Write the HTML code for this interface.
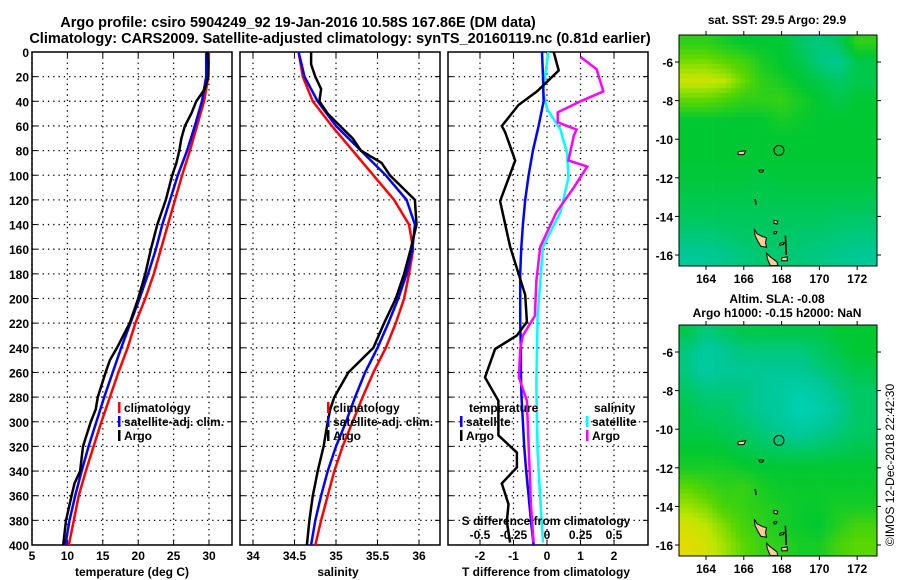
<!DOCTYPE html>
<html><head><meta charset="utf-8">
<style>
body{margin:0;background:#fff;}
svg{display:block;font-family:"Liberation Sans",Arial,sans-serif;font-weight:bold;}
</style></head>
<body>
<svg id="fig" width="900" height="580" viewBox="0 0 900 580" xmlns="http://www.w3.org/2000/svg">
<text x="298" y="27" font-size="14.5" text-anchor="middle">Argo profile: csiro 5904249_92 19-Jan-2016 10.58S 167.86E (DM data)</text>
<text x="340" y="43" font-size="14.5" text-anchor="middle">Climatology: CARS2009. Satellite-adjusted climatology: synTS_20160119.nc (0.81d earlier)</text>
<text x="777" y="24" font-size="12" text-anchor="middle">sat. SST: 29.5 Argo: 29.9</text>
<text x="777" y="303" font-size="12" text-anchor="middle">Altim. SLA: -0.08</text>
<text x="777" y="317" font-size="12" text-anchor="middle">Argo h1000: -0.15 h2000: NaN</text>
<text transform="translate(894,465) rotate(-90)" font-size="12" font-weight="normal" text-anchor="middle">©IMOS 12-Dec-2018 22:42:30</text>
</svg>
<script>
// ---------- data ----------
const depthTicks=[0,20,40,60,80,100,120,140,160,180,200,220,240,260,280,300,320,340,360,380,400];
const tTicks=[5,10,15,20,25,30];
const sTicks=[34,34.5,35,35.5,36];
const dTTicks=[-2,-1,0,1,2];
const dSTicks=[-0.5,-0.25,0,0.25,0.5];
const dSTickLabels=['-0.5','-0.25','0','0.25','0.5'];
const climDepth=[0,20,40,60,80,100,120,140,160,180,200,220,240,260,280,300,320,340,360,380,400];
const tClim=[30,29.9,29.3,28.3,27.3,26.2,25.2,24.2,23.2,22.2,21,19.6,18.5,17.2,16,14.8,13.7,12.6,11.6,10.9,10.2];
const tSat=[29.6,29.6,29,28,26.9,25.6,24.5,23.4,22.5,21.4,20.2,18.9,17.6,16.4,15.2,14.1,13,12,11.1,10.3,9.7];
const argoDepth=[0,10,20,30,40,50,60,70,80,90,100,120,140,160,180,200,220,240,250,260,280,290,300,320,340,350,360,380,400];
const tArgo=[29.8,29.9,29.9,29.4,28.2,27.5,26.6,26.1,25.8,25.4,24.8,23.9,22.7,21.8,21,20,18.8,17,16,15.4,14.3,14,13.3,12.2,11.8,11,10.6,9.8,9.4];
const sClim=[34.55,34.6,34.72,34.95,35.2,35.45,35.7,35.88,35.93,35.88,35.82,35.72,35.6,35.45,35.32,35.2,35.08,34.98,34.9,34.82,34.75];
const sSat=[34.55,34.62,34.78,35.0,35.3,35.6,35.85,35.95,35.92,35.85,35.75,35.63,35.5,35.35,35.23,35.12,35.0,34.9,34.82,34.75,34.7];
const sArgo=[34.7,34.7,34.75,34.82,34.8,34.9,35.05,35.2,35.3,35.55,35.65,35.95,35.97,35.9,35.82,35.72,35.58,35.45,35.3,35.15,34.98,34.93,34.9,34.85,34.78,34.75,34.72,34.68,34.65];
const dTSat=[-0.15,-0.12,-0.1,-0.25,-0.42,-0.55,-0.65,-0.72,-0.77,-0.8,-0.8,-0.8,-0.78,-0.78,-0.76,-0.72,-0.68,-0.62,-0.55,-0.48,-0.4];
const dTArgoDepth=[0,15,32,43,60,65,88,121,158,197,219,230,241,264,283,311,325,337,350,367,381,398];
const dTArgo=[0.2,0.35,-0.3,-0.85,-1.35,-1.25,-0.95,-1.4,-1.1,-0.65,-0.6,-0.9,-1.55,-1.85,-1.45,-1.45,-0.9,-0.9,-1.35,-1.15,-1.2,-1.1];
const dSArgoDepth=[4,14,32,40,49,57,63,68,88,93,110,130,144,158,186,214,230,241,264,283,311,339,367,398];
const dSArgo=[0.25,0.37,0.42,0.25,0.08,0.08,0.22,0.2,0.16,0.3,0.2,0.07,0.01,-0.05,-0.08,-0.09,-0.18,-0.2,-0.21,-0.15,-0.14,-0.13,-0.12,-0.1];
const dSSatDepth=[0,32,46,63,82,102,130,147,158,214,270,325,381,398];
const dSSat=[0.01,-0.03,0,0.1,0.15,0.16,0.1,0.02,-0.03,-0.07,-0.08,-0.07,-0.04,-0.03];
// map data: rows lat -5..-16, cols lon 163..172
const mapLats=[-5,-6,-7,-8,-9,-10,-11,-12,-13,-14,-15,-16];
const mapLons=[163,164,165,166,167,168,169,170,171,172];
const lonTicks=[164,166,168,170,172];
const latTicks=[-6,-8,-10,-12,-14,-16];
const sstGrid=[
[0.6,0.6,0.55,0.5,0.5,0.5,0.4,0.35,0.4,0.6],
[0.75,0.75,0.7,0.65,0.55,0.5,0.45,0.35,0.3,0.45],
[0.88,0.88,0.85,0.72,0.6,0.55,0.5,0.45,0.4,0.45],
[0.7,0.7,0.65,0.6,0.6,0.62,0.55,0.5,0.45,0.5],
[0.5,0.5,0.5,0.5,0.5,0.55,0.52,0.5,0.5,0.5],
[0.5,0.5,0.5,0.5,0.5,0.5,0.5,0.5,0.5,0.5],
[0.5,0.5,0.5,0.5,0.5,0.5,0.5,0.5,0.5,0.5],
[0.48,0.48,0.48,0.48,0.46,0.48,0.48,0.48,0.48,0.48],
[0.45,0.45,0.45,0.45,0.45,0.45,0.45,0.45,0.45,0.45],
[0.42,0.42,0.42,0.42,0.42,0.42,0.42,0.42,0.4,0.4],
[0.36,0.36,0.38,0.4,0.4,0.4,0.38,0.38,0.36,0.35],
[0.3,0.3,0.32,0.35,0.38,0.38,0.36,0.34,0.32,0.3]];
const slaGrid=[
[0.45,0.35,0.4,0.45,0.45,0.45,0.45,0.45,0.5,0.5],
[0.35,0.25,0.3,0.35,0.35,0.35,0.35,0.4,0.45,0.5],
[0.35,0.25,0.3,0.3,0.3,0.3,0.3,0.35,0.4,0.45],
[0.4,0.35,0.35,0.35,0.3,0.25,0.2,0.25,0.35,0.4],
[0.45,0.4,0.4,0.35,0.3,0.25,0.15,0.2,0.3,0.4],
[0.45,0.45,0.42,0.4,0.35,0.3,0.25,0.3,0.35,0.4],
[0.5,0.5,0.48,0.45,0.42,0.4,0.38,0.4,0.42,0.45],
[0.55,0.55,0.55,0.52,0.5,0.5,0.5,0.5,0.5,0.5],
[0.7,0.65,0.6,0.62,0.55,0.52,0.52,0.52,0.52,0.52],
[0.8,0.75,0.65,0.62,0.58,0.55,0.52,0.52,0.55,0.55],
[0.9,0.85,0.75,0.65,0.6,0.55,0.52,0.5,0.58,0.65],
[0.95,0.9,0.8,0.7,0.62,0.6,0.55,0.55,0.65,0.7]];
const argoLon=167.86, argoLat=-10.58;

// ---------- helpers ----------
const svg=document.getElementById('fig');
const NS='http://www.w3.org/2000/svg';
function mk(tag,attrs,parent){const e=document.createElementNS(NS,tag);for(const k in attrs)e.setAttribute(k,attrs[k]);(parent||svg).appendChild(e);return e;}
const TOP=52, BOT=545;
const yD=d=>TOP+(BOT-TOP)*d/400;
function txt(x,y,s,size,anchor,color){const t=mk('text',{x,y,'font-size':size||12,'text-anchor':anchor||'middle',fill:color||'#000'});t.textContent=s;return t;}

function panel(x0,x1,xs,xticks,xlabels,name){
  const g=mk('g',{});
  
  
  xticks.forEach(v=>{const X=xs(v);mk('line',{x1:X,y1:TOP,x2:X,y2:BOT,stroke:'#000','stroke-width':1.3,'stroke-dasharray':'1.3,4'},g);
    mk('line',{x1:X,y1:TOP,x2:X,y2:TOP+5,stroke:'#000'},g);mk('line',{x1:X,y1:BOT,x2:X,y2:BOT-5,stroke:'#000'},g);});
  depthTicks.forEach(d=>{const Y=yD(d);if(d>0&&d<400)mk('line',{x1:x0,y1:Y,x2:x1,y2:Y,stroke:'#000','stroke-width':1.3,'stroke-dasharray':'1.3,4'},g);
    mk('line',{x1:x0,y1:Y,x2:x0+5,y2:Y,stroke:'#000'},g);mk('line',{x1:x1,y1:Y,x2:x1-5,y2:Y,stroke:'#000'},g);});
  mk('rect',{x:x0,y:TOP,width:x1-x0,height:BOT-TOP,fill:'none',stroke:'#000','stroke-width':1.5},g);
  if(xlabels) xticks.forEach((v,i)=>{const t=mk('text',{x:xs(v),y:560,'font-size':12,'text-anchor':'middle'},g);t.textContent=xlabels[i];});
  return g;
}
function series(xs,depths,vals,color,name,w){
  const p=mk('polyline',{points:vals.map((v,i)=>xs(v).toFixed(1)+','+yD(depths[i]).toFixed(1)).join(' '),fill:'none',stroke:color,'stroke-width':w||2.5,'stroke-linejoin':'miter'});
  
  
}
function legendEntry(x,y,color,label,name){
  const g=mk('g',{});
  
  
  mk('rect',{x:x,y:y-10,width:2.5,height:11,fill:color},g);
  const t=mk('text',{x:x+6,y:y,'font-size':12},g);t.textContent=label;
}

// ---------- panel 1: temperature ----------
const xT=v=>32+(v-5)*(209-32)/25;
panel(32,232,xT,tTicks,tTicks.map(String),'temperature-panel');
depthTicks.forEach(d=>{const t=txt(29,yD(d)+5,String(d),12,'end');});
series(xT,climDepth,tClim,'#ff0000','temp-climatology-line');
series(xT,climDepth,tSat,'#0000ff','temp-satellite-line');
series(xT,argoDepth,tArgo,'#000000','temp-argo-line');
legendEntry(118,412,'#ff0000','climatology','legend-climatology');
legendEntry(118,426,'#0000ff','satellite-adj. clim.','legend-satellite');
legendEntry(118,440,'#000000','Argo','legend-argo');
txt(132,576,'temperature (deg C)',12);

// ---------- panel 2: salinity ----------
const xS=v=>336+(v-35)*83;
panel(240,440,xS,sTicks,['34','34.5','35','35.5','36'],'salinity-panel');
series(xS,climDepth,sClim,'#ff0000','sal-climatology-line');
series(xS,climDepth,sSat,'#0000ff','sal-satellite-line');
series(xS,argoDepth,sArgo,'#000000','sal-argo-line');
legendEntry(327,412,'#ff0000','climatology','legend-climatology-2');
legendEntry(327,426,'#0000ff','satellite-adj. clim.','legend-satellite-2');
legendEntry(327,440,'#000000','Argo','legend-argo-2');
txt(338,576,'salinity',12);

// ---------- panel 3: differences ----------
const xDT=v=>547+v*33.5;
const xDS=v=>547+v*134;
panel(448,648,xDT,dTTicks,['-2','-1','0','1','2'],'difference-panel');
series(xDS,dSSatDepth,dSSat,'#00ffff','sdiff-satellite-line');
series(xDT,climDepth,dTSat,'#0000ff','tdiff-satellite-line');
series(xDS,dSArgoDepth,dSArgo,'#ff00ff','sdiff-argo-line');
series(xDT,dTArgoDepth,dTArgo,'#000000','tdiff-argo-line');
txt(469,412,'temperature',12,'start');
legendEntry(460,426,'#0000ff','satellite','legend-tdiff-satellite');
legendEntry(460,440,'#000000','Argo','legend-tdiff-argo');
txt(594,412,'salinity',12,'start');
legendEntry(586,426,'#00ffff','satellite','legend-sdiff-satellite');
legendEntry(586,440,'#ff00ff','Argo','legend-sdiff-argo');
txt(546,525,'S difference from climatology',12);
dSTicks.forEach((v,i)=>{const t=txt(xDS(v),539,dSTickLabels[i],12);});
txt(546,576,'T difference from climatology',12);

// ---------- maps ----------
const LON0=162.57, LON1=173.05, LAT0=-4.6, LAT1=-16.57;
const stops=[[0,[0,216,208]],[0.3,[0,200,150]],[0.5,[0,200,50]],[0.7,[90,215,0]],[0.85,[190,230,0]],[1,[245,215,0]]];
function cmap(v){v=Math.max(0,Math.min(1,v));for(let i=1;i<stops.length;i++){if(v<=stops[i][0]){const a=stops[i-1],b=stops[i],f=(v-a[0])/(b[0]-a[0]);return 'rgb('+a[1].map((c,k)=>Math.round(c+(b[1][k]-c)*f)).join(',')+')';}}return 'rgb(245,215,0)';}
function sample(grid,lon,lat){
  let fx=(lon-mapLons[0]),fy=(mapLats[0]-lat);
  fx=Math.max(0,Math.min(mapLons.length-1.001,fx));fy=Math.max(0,Math.min(mapLats.length-1.001,fy));
  const i=Math.floor(fy),j=Math.floor(fx),u=fx-j,w=fy-i;
  return grid[i][j]*(1-u)*(1-w)+grid[i][j+1]*u*(1-w)+grid[i+1][j]*(1-u)*w+grid[i+1][j+1]*u*w;
}
const islands=[
 [[166.55,-14.65],[166.7,-14.9],[167.0,-15.05],[167.2,-15.1],[167.15,-15.35],[167.2,-15.6],[166.9,-15.55],[166.75,-15.3],[166.6,-15.0]],
 [[167.2,-15.9],[167.4,-16.1],[167.75,-16.35],[167.8,-16.55],[167.4,-16.55],[167.25,-16.2]],
 [[167.6,-14.2],[167.8,-14.25],[167.75,-14.4],[167.6,-14.35]],
 [[167.6,-14.8],[167.75,-14.8],[167.7,-14.9],[167.6,-14.9]],
 [[167.9,-15.4],[168.15,-15.35],[168.1,-15.45],[167.9,-15.5]],
 [[165.7,-10.65],[166.1,-10.6],[166.0,-10.8],[165.7,-10.8]],
 [[166.8,-11.6],[167.05,-11.6],[167.0,-11.7],[166.85,-11.7]],
 [[168.0,-16.15],[168.3,-16.1],[168.3,-16.3],[168.0,-16.3]]
];
function drawMap(y0,grid,name){
  const x0=679,x1=877,y1=y0+231;
  const xs=lon=>x0+(lon-LON0)*(x1-x0)/(LON1-LON0);
  const ys=lat=>y0+(lat-LAT0)*(y1-y0)/(LAT1-LAT0);
  const g=mk('g',{});
  
  
  const step=0.25;
  for(let lat=LAT0;lat>LAT1;lat-=step){for(let lon=LON0;lon<LON1;lon+=step){
    const X=xs(lon),Y=ys(lat),W=xs(Math.min(lon+step,LON1))-X+0.4,H=ys(Math.max(lat-step,LAT1))-Y+0.4;
    mk('rect',{x:X.toFixed(1),y:Y.toFixed(1),width:W.toFixed(1),height:H.toFixed(1),fill:cmap(sample(grid,lon+step/2,lat-step/2))},g);
  }}
  islands.forEach(p=>{const pl=mk('polygon',{points:p.map(q=>xs(q[0]).toFixed(1)+','+ys(q[1]).toFixed(1)).join(' '),fill:'#ffcc99',stroke:'#000','stroke-width':1},g);});
  mk('line',{x1:xs(168.2),y1:ys(-15.0),x2:xs(168.25),y2:ys(-16.0),stroke:'#000','stroke-width':1.5},g);
  mk('line',{x1:xs(166.6),y1:ys(-13.1),x2:xs(166.65),y2:ys(-13.4),stroke:'#000','stroke-width':1.5},g);
  const c=mk('circle',{cx:xs(argoLon),cy:ys(argoLat),r:5,fill:'none',stroke:'#000','stroke-width':1},g);
  
  
  mk('rect',{x:x0,y:y0,width:x1-x0,height:y1-y0,fill:'none',stroke:'#000','stroke-width':1},g);
  lonTicks.forEach(v=>{const X=xs(v);mk('line',{x1:X,y1:y0,x2:X,y2:y0-4,stroke:'#000'},g);mk('line',{x1:X,y1:y1,x2:X,y2:y1+4,stroke:'#000'},g);const t=mk('text',{x:X,y:y1+17,'font-size':12,'text-anchor':'middle'},g);t.textContent=String(v);});
  latTicks.forEach(v=>{const Y=ys(v);mk('line',{x1:x0,y1:Y,x2:x0-4,y2:Y,stroke:'#000'},g);mk('line',{x1:x1,y1:Y,x2:x1+4,y2:Y,stroke:'#000'},g);const t=mk('text',{x:x0-6,y:Y+5,'font-size':12,'text-anchor':'end'},g);t.textContent=String(v);});
}
drawMap(35,sstGrid,'sst-map');
drawMap(325,slaGrid,'sla-map');
</script>
</body></html>
